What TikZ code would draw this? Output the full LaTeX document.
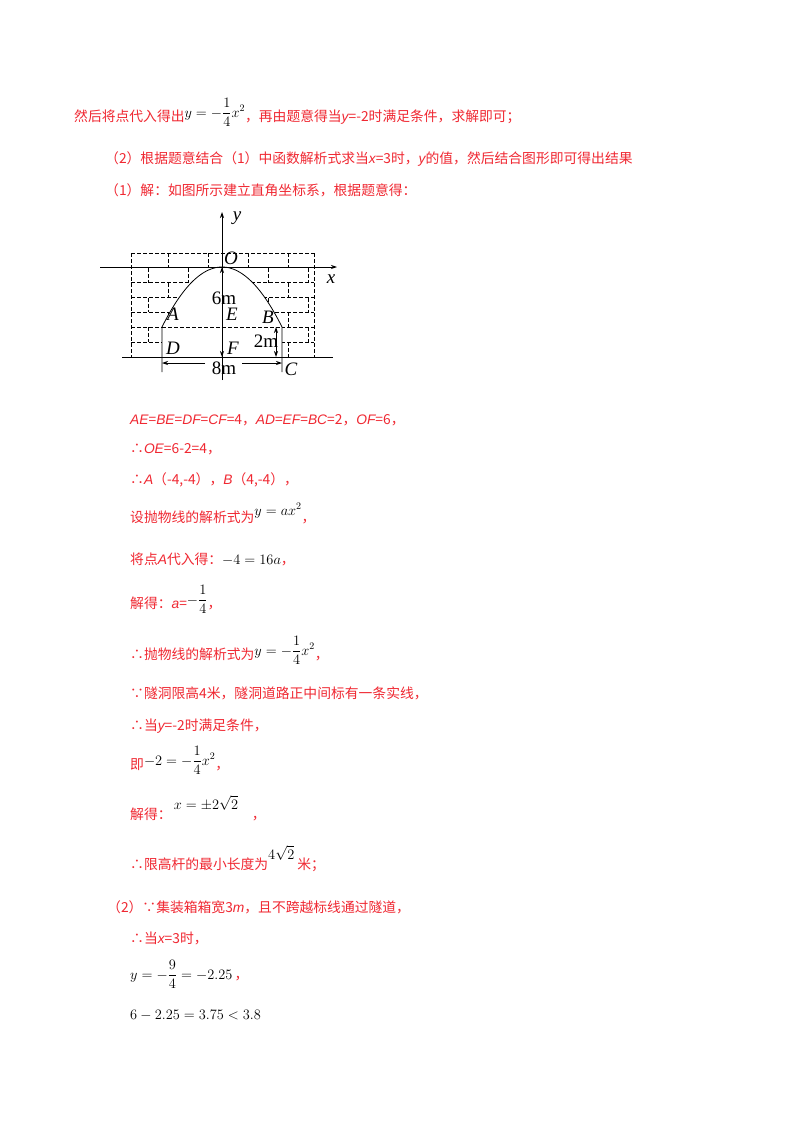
\documentclass[tikz,border=0pt]{standalone}
\usepackage{amsmath}
\usepackage[no-math]{fontspec}
\setmainfont{Noto Sans CJK SC}
\newfontfamily\lsi{Liberation Sans}
\newfontfamily\fig{Liberation Serif}
\usetikzlibrary{arrows.meta}
\definecolor{rd}{RGB}{240,40,50}
\newcommand{\iv}[1]{{\lsi\itshape #1}}
\newcommand{\bm}[1]{{\color{black}$\displaystyle #1$}}
\begin{document}
\begin{tikzpicture}[x=1pt,y=-1pt,
  txt/.style={anchor=base west,inner sep=0pt,text=rd,font=\fontsize{13.8}{15}\selectfont},
  mth/.style={anchor=base west,inner sep=0pt,text=black,font=\fontsize{13.8}{15}\selectfont},
  lab/.style={inner sep=0pt,font=\fig\fontsize{19}{20}\selectfont},
  ilab/.style={inner sep=0pt,font=\fig\itshape\fontsize{19}{20}\selectfont},
  brick/.style={dashed,line width=0.6pt,dash pattern=on 4pt off 2pt},
  ln/.style={line width=0.8pt},
  arr/.style={-{Stealth[length=6pt,width=4pt]}}]
\useasboundingbox[fill=white] (0,0) rectangle (800,1132);
% ---------- text ----------
\node[txt] (t1) at (74,121) {然后将点代入得出\raisebox{4pt}{\bm{y=-\frac{1}{4}x^2}}，再由题意得当\iv{y}=-2时满足条件，求解即可；};
\node[txt] (t2) at (105,163) {（2）根据题意结合（1）中函数解析式求当\iv{x}=3时，\iv{y}的值，然后结合图形即可得出结果};
\node[txt] (t3) at (105,195) {（1）解：如图所示建立直角坐标系，根据题意得：};
\node[txt] (t4) at (130,424) {\iv{AE}=\iv{BE}=\iv{DF}=\iv{CF}=4，\iv{AD}=\iv{EF}=\iv{BC}=2，\iv{OF}=6，};
\node[txt] (t5) at (130,453) {∴\iv{OE}=6-2=4，};
\node[txt] (t6) at (130,484) {∴\iv{A}（-4,-4），\iv{B}（4,-4），};
\node[txt] (t7) at (130,522) {设抛物线的解析式为\raisebox{7pt}{\bm{y=ax^2}}，};
\node[txt] (t8) at (130,564) {将点\iv{A}代入得：\bm{-4=16a}，};
\node[txt] (t9) at (130,608) {解得：\iv{a}=\raisebox{4pt}{\bm{-\frac{1}{4}}}，};
\node[txt] (t10) at (130,659) {∴抛物线的解析式为\raisebox{4pt}{\bm{y=-\frac{1}{4}x^2}}，};
\node[txt] (t11) at (130,698) {∵隧洞限高4米，隧洞道路正中间标有一条实线，};
\node[txt] (t12) at (130,730) {∴当\iv{y}=-2时满足条件，};
\node[txt] (t13) at (130,769) {即\raisebox{4pt}{\bm{-2=-\frac{1}{4}x^2}}，};
\node[txt] (t14) at (130,819) {解得：\raisebox{10pt}{\,\bm{x=\pm2\sqrt{2}}}\quad ，};
\node[txt] (t15) at (130,869) {∴限高杆的最小长度为\raisebox{10pt}{\bm{4\sqrt{2}}}\ 米；};
\node[txt] (t16) at (107,912) {（2）∵集装箱箱宽3\iv{m}，且不跨越标线通过隧道，};
\node[txt] (t17) at (130,943) {∴当\iv{x}=3时，};
\node[mth] (t18) at (130,979) {$\displaystyle y=-\frac{9}{4}=-2.25$\,{\color{rd}，}};
\node[mth] (t19) at (130,1019) {$6-2.25=3.75<3.8$};
% ---------- figure ----------
\foreach \yy in {253,282,297,312,327,342} \draw[brick] (131,\yy) -- (314,\yy);
\draw[brick] (131,253) -- (131,357);
\draw[brick] (314,253) -- (314,357);
\foreach \r in {0,...,6}{
  \pgfmathsetmacro{\ya}{253+\r*14.86}
  \pgfmathsetmacro{\yb}{\ya+14.86}
  \pgfmathsetmacro{\off}{mod(\r,2)==0 ? 20 : 0}
  \foreach \k in {0,...,4}{
    \pgfmathsetmacro{\xx}{148+\off+\k*40}
    \ifdim\xx pt<312pt \draw[brick] (\xx,\ya) -- (\xx,\yb);\fi
  }}
% tunnel cut-out
\fill[white] (162,357) -- (162,327) -- plot[domain=-60:60,samples=60] ({222+\x},{267+\x*\x/60}) -- (282,357) -- cycle;
\draw[brick] (162,327) -- (282,327);
\draw[ln] (162,372) -- (162,327) -- plot[domain=-60:60,samples=60] ({222+\x},{267+\x*\x/60}) -- (282,372);
\draw[ln] (122,357) -- (333,357);
\coordinate (xs) at (100,267); \coordinate (xe) at (337,267);
\coordinate (ys) at (222,380); \coordinate (ye) at (222,212);
\draw[ln,arr] (xs) -- (xe);
\draw[ln,arr] (ys) -- (ye);
\coordinate (O) at (222,267); \coordinate (F) at (222,357);
\draw[ln,arr] (222,300) -- (O);
\draw[ln,arr] (222,330) -- (F);
\coordinate (b1) at (276,327); \coordinate (b2) at (276,357);
\draw[ln,{Stealth[length=6pt,width=4pt]}-{Stealth[length=6pt,width=4pt]}] (b1) -- (b2);
\coordinate (d8) at (162,363); \coordinate (c8) at (282,363);
\draw[ln,arr] (205,363) -- (d8);
\draw[ln,arr] (242,363) -- (c8);
\node[ilab] (ly) at (237,218) {y};
\node[ilab] (lx) at (331,279) {x};
\node[ilab] (lO) at (231,258) {O};
\node[lab] (l6) at (224,298) {6m};
\node[ilab] (lE) at (232,314) {E};
\node[ilab] (lA) at (173,314) {A};
\node[ilab] (lB) at (268,317) {B};
\node[lab] (l2) at (266,341) {2m};
\node[ilab] (lD) at (173,348) {D};
\node[ilab] (lF) at (233,348) {F};
\node[lab] (l8) at (224,368) {8m};
\node[ilab] (lC) at (291,369) {C};
\end{tikzpicture}
\end{document}
